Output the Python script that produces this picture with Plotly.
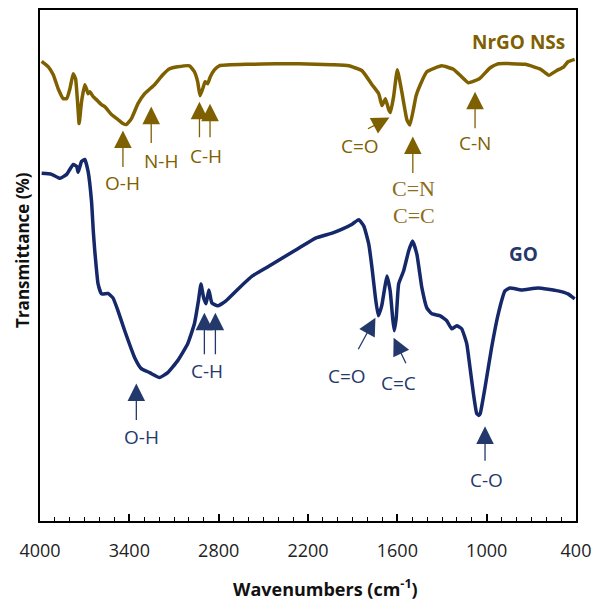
import plotly.graph_objects as go

# ---------------- data ----------------
nrgo_wn = [3989, 3944, 3911, 3878, 3844, 3821, 3799, 3777, 3761, 3748, 3737, 3721, 3699,
           3688, 3677, 3665, 3643, 3621, 3587, 3565, 3520, 3476, 3443, 3420, 3386, 3342,
           3297, 3231, 3175, 3130, 3075, 2996, 2963, 2941, 2925, 2907, 2891, 2874, 2856,
           2829, 2796, 2595, 2416, 2260, 2040, 1926, 1837, 1770, 1725, 1703, 1680, 1658,
           1647, 1625, 1600, 1569, 1536, 1516, 1491, 1474, 1446, 1402, 1302, 1223, 1168,
           1123, 1049, 976, 922, 741, 638, 582, 532, 482, 454, 409]
nrgo_t = [461.5, 456, 448, 434, 424, 424, 434, 449, 444, 421, 399, 421, 438,
          434, 429, 431, 426, 423, 418, 416, 408, 403, 399, 398, 404, 419,
          429, 438, 448, 454, 456, 457, 451, 441, 427, 434, 441, 439, 446,
          453, 457, 458.5, 459, 459, 458, 457, 452, 438, 429, 417, 424, 413,
          410, 426, 453, 430, 403, 397.5, 414, 427, 438, 451, 457, 453.5, 446,
          440, 444, 455, 459, 458.5, 453.5, 447.5, 452, 456, 461, 463.5]

go_wn = [3989, 3922, 3866, 3821, 3777, 3754, 3744, 3721, 3699, 3677, 3654, 3642, 3632,
         3610, 3587, 3543, 3510, 3476, 3431, 3364, 3320, 3264, 3197, 3142, 3075, 3008,
         2963, 2936, 2919, 2901, 2885, 2866, 2846, 2807, 2751, 2662, 2573, 2483, 2372,
         2260, 2149, 2038, 1971, 1904, 1859, 1825, 1792, 1770, 1747, 1728, 1705, 1688,
         1670, 1648, 1631, 1621, 1608, 1591, 1558, 1524, 1498, 1469, 1435, 1402, 1368,
         1312, 1268, 1235, 1201, 1168, 1134, 1112, 1089, 1067, 1053, 1043, 1011, 967,
         922, 877, 844, 766, 655, 521, 454, 409]
go_t = [349, 348, 344, 348, 358, 356, 350, 361, 363, 351, 321, 291, 271,
        238, 228, 228.5, 224, 211, 191, 164, 153, 149, 144, 149, 161, 178,
        198, 221, 238, 224, 218, 232, 219, 216, 221, 234, 246, 254, 264,
        274, 284, 289, 293, 298, 302.5, 296, 278, 254, 224, 206, 216, 231,
        246, 231, 203, 191, 203, 238, 251, 271, 281, 268, 234, 214, 208,
        206, 201, 193, 196, 193, 178, 154, 128, 108, 106, 108, 134, 174,
        208, 231, 234, 232, 234, 231, 228, 223]

x_tickvals = [4000, 3400, 2800, 2200, 1600, 1000, 400]
x_ticktext = ["4000", "3400", "2800", "2200", "1600", "1000", "400"]

# annotations: (tip wn, tip T, tail dx px, tail dy px)
nrgo_arrows = [(3443, 392, 0, 38), (3253, 416, 0, 38), (2929, 421, 0, 37), (2858, 419, 0, 35),
               (1653, 405, -23, 12), (1496, 386, 0, 38), (1078, 431, 0, 38)]
nrgo_labels = [("O-H", 3443, 339), ("N-H", 3186, 361), ("C-H", 2885, 366),
               ("C=O", 1848, 376), ("C-N", 1078, 379)]
nrgo_serif_labels = [("C=N", 1491, 334), ("C=C", 1491, 307)]
go_arrows = [(2896, 209, 0, 43), (2822, 209, 0, 43), (3353, 138, 0, 38),
             (1747, 204, -18, 33), (1625, 184, 13, 27), (1011, 95, 0, 36)]
go_labels = [("C-H", 2881, 151), ("O-H", 3320, 84), ("C=O", 1937, 146),
             ("C=C", 1591, 139), ("C-O", 1002, 41)]

OLIVE = "#7f6000"
OLIVE_LIGHT = "#8c6d1c"
NAVY_LINE = "#14286a"
NAVY_TEXT = "#24396b"

fig = go.Figure()
fig.add_trace(go.Scatter(x=nrgo_wn, y=nrgo_t, mode="lines",
                         line=dict(color=OLIVE, width=3.5, shape="spline", smoothing=0.4),
                         showlegend=False))
fig.add_trace(go.Scatter(x=go_wn, y=go_t, mode="lines",
                         line=dict(color=NAVY_LINE, width=3.5, shape="spline", smoothing=0.4),
                         showlegend=False))

ann = []
for (x, y, dx, dy) in nrgo_arrows:
    ann.append(dict(x=x, y=y, xref="x", yref="y", ax=dx, ay=dy, text="", showarrow=True,
                    arrowhead=2, arrowsize=2.7, arrowwidth=1.3, arrowcolor=OLIVE))
for (x, y, dx, dy) in go_arrows:
    ann.append(dict(x=x, y=y, xref="x", yref="y", ax=dx, ay=dy, text="", showarrow=True,
                    arrowhead=2, arrowsize=2.7, arrowwidth=1.3, arrowcolor=NAVY_TEXT))
for (t, x, y) in nrgo_labels:
    ann.append(dict(x=x, y=y, xref="x", yref="y", text=t, showarrow=False,
                    font=dict(family="Open Sans", size=19, color=OLIVE)))
for (t, x, y) in nrgo_serif_labels:
    ann.append(dict(x=x, y=y, xref="x", yref="y", text=t, showarrow=False,
                    font=dict(family="Liberation Serif", size=22, color=OLIVE_LIGHT)))
for (t, x, y) in go_labels:
    ann.append(dict(x=x, y=y, xref="x", yref="y", text=t, showarrow=False,
                    font=dict(family="Open Sans", size=19, color=NAVY_TEXT)))
ann.append(dict(x=788, y=481, xref="x", yref="y", text="<b>NrGO NSs</b>", showarrow=False,
                font=dict(family="Open Sans", size=19, color=OLIVE)))
ann.append(dict(x=755, y=268, xref="x", yref="y", text="<b>GO</b>", showarrow=False,
                font=dict(family="Open Sans", size=19, color=NAVY_TEXT)))
# axis titles (paper coordinates relative to the plot area)
ann.append(dict(x=0.5335, y=-0.131, xref="paper", yref="paper", xanchor="center",
                yanchor="middle", text="<b>Wavenumbers (cm<sup>-1</sup>)</b>", showarrow=False,
                font=dict(family="Open Sans", size=18, color="#111")))
ann.append(dict(x=-0.034, y=0.530, xref="paper", yref="paper", textangle=-90,
                xanchor="center", yanchor="middle",
                text="<b>Transmittance (%)</b>", showarrow=False,
                font=dict(family="Open Sans", size=17, color="#111")))

fig.update_layout(
    width=599, height=602,
    margin=dict(l=40, r=21, t=8, b=81),
    paper_bgcolor="white", plot_bgcolor="white",
    annotations=ann,
    xaxis=dict(range=[4000, 400], autorange=False, showgrid=False, zeroline=False,
               showline=True, linecolor="black", linewidth=2, mirror=True,
               tickvals=x_tickvals, ticktext=x_ticktext, ticks="inside", ticklen=7,
               tickcolor="black", tickwidth=1.5, ticklabelstandoff=12,
               tickfont=dict(family="Open Sans", size=18, color="#222"),
               minor=dict(dtick=100, tick0=400, ticks="inside", ticklen=4,
                          tickcolor="black", tickwidth=1.2, showgrid=False)),
    yaxis=dict(range=[0, 513], autorange=False, showgrid=False, zeroline=False,
               showline=True, linecolor="black", linewidth=2, mirror=True,
               showticklabels=False, ticks=""),
)

fig.write_html("out.html")
